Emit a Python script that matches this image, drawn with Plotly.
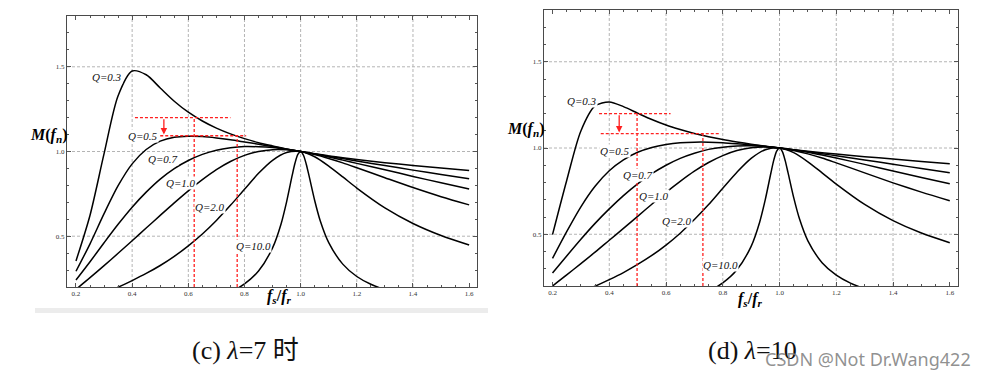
import plotly.graph_objects as go

# ---------------- data ----------------
X = [0.2, 0.25, 0.3, 0.35, 0.4, 0.45, 0.5, 0.55, 0.6, 0.65, 0.7, 0.75, 0.8,
     0.85, 0.9, 0.95, 1.0, 1.05, 1.1, 1.15, 1.2, 1.3, 1.4, 1.5, 1.6]

# lambda = 7
L7_Q03 = [0.354, 0.624, 0.987, 1.329, 1.475, 1.453, 1.375, 1.297, 1.232, 1.180, 1.138, 1.104, 1.076,
          1.052, 1.033, 1.015, 1.0, 0.987, 0.974, 0.963, 0.953, 0.934, 0.918, 0.903, 0.888]
L7_Q05 = [0.293, 0.455, 0.633, 0.798, 0.927, 1.012, 1.061, 1.084, 1.090, 1.088, 1.080, 1.069, 1.056,
          1.043, 1.029, 1.014, 1.0, 0.986, 0.972, 0.958, 0.944, 0.917, 0.890, 0.864, 0.839]
L7_Q07 = [0.241, 0.349, 0.461, 0.570, 0.671, 0.760, 0.837, 0.899, 0.947, 0.983, 1.008, 1.022, 1.029,
          1.028, 1.023, 1.013, 1.0, 0.985, 0.968, 0.949, 0.930, 0.892, 0.853, 0.815, 0.779]
L7_Q10 = [0.186, 0.255, 0.326, 0.399, 0.473, 0.548, 0.623, 0.697, 0.768, 0.834, 0.893, 0.941, 0.977,
          1.000, 1.011, 1.010, 1.0, 0.982, 0.959, 0.933, 0.904, 0.845, 0.787, 0.733, 0.685]
L7_Q20 = [0.101, 0.132, 0.164, 0.199, 0.238, 0.280, 0.327, 0.381, 0.443, 0.513, 0.593, 0.682, 0.777,
          0.871, 0.948, 0.994, 1.0, 0.969, 0.914, 0.850, 0.784, 0.667, 0.575, 0.504, 0.448]

# lambda = 10
L10_Q03 = [0.498, 0.812, 1.099, 1.244, 1.267, 1.240, 1.202, 1.165, 1.133, 1.107, 1.084, 1.065, 1.049,
           1.035, 1.022, 1.010, 1.0, 0.990, 0.981, 0.973, 0.965, 0.950, 0.936, 0.922, 0.909]
L10_Q05 = [0.360, 0.515, 0.659, 0.778, 0.868, 0.931, 0.975, 1.003, 1.020, 1.030, 1.034, 1.034, 1.031,
           1.025, 1.018, 1.010, 1.0, 0.990, 0.979, 0.967, 0.955, 0.931, 0.906, 0.881, 0.857]
L10_Q07 = [0.275, 0.374, 0.471, 0.563, 0.647, 0.724, 0.792, 0.851, 0.900, 0.940, 0.970, 0.992, 1.005,
           1.012, 1.013, 1.008, 1.0, 0.989, 0.975, 0.959, 0.942, 0.905, 0.867, 0.829, 0.793]
L10_Q10 = [0.200, 0.264, 0.330, 0.396, 0.465, 0.534, 0.604, 0.674, 0.743, 0.807, 0.866, 0.916, 0.956,
           0.985, 1.001, 1.006, 1.0, 0.986, 0.966, 0.942, 0.914, 0.856, 0.798, 0.744, 0.694]
L10_Q20 = [0.103, 0.133, 0.165, 0.199, 0.237, 0.278, 0.325, 0.377, 0.437, 0.506, 0.585, 0.672, 0.767,
           0.860, 0.940, 0.990, 1.0, 0.973, 0.920, 0.856, 0.791, 0.673, 0.579, 0.507, 0.451]

# Q = 10 curves (sharper peak, denser sampling)
XQ100 = [0.2, 0.3, 0.4, 0.5, 0.6, 0.65, 0.7, 0.75, 0.8, 0.85, 0.9, 0.93, 0.95, 0.97, 0.98, 0.99,
         1.0, 1.01, 1.02, 1.03, 1.05, 1.07, 1.1, 1.15, 1.2, 1.25, 1.3, 1.4, 1.5, 1.6]
L7_Q100 = [0.021, 0.033, 0.048, 0.067, 0.094, 0.112, 0.136, 0.170, 0.218, 0.294, 0.431, 0.571, 0.703,
           0.860, 0.932, 0.983, 1.0, 0.978, 0.925, 0.856, 0.711, 0.590, 0.462, 0.335, 0.262, 0.216,
           0.185, 0.144, 0.119, 0.102]
L10_Q100 = [0.021, 0.033, 0.048, 0.067, 0.094, 0.112, 0.136, 0.169, 0.218, 0.294, 0.430, 0.570, 0.702,
            0.858, 0.931, 0.982, 1.0, 0.979, 0.927, 0.857, 0.712, 0.591, 0.462, 0.335, 0.263, 0.217,
            0.185, 0.144, 0.119, 0.102]

Q_LABELS = ["Q=0.3", "Q=0.5", "Q=0.7", "Q=1.0", "Q=2.0", "Q=10.0"]
L7_LABEL_X = [0.312, 0.437, 0.51, 0.574, 0.677, 0.831]
L7_LABEL_Y = [1.438, 1.091, 0.954, 0.816, 0.671, 0.442]
L10_LABEL_X = [0.303, 0.421, 0.50, 0.557, 0.638, 0.793]
L10_LABEL_Y = [1.274, 0.984, 0.845, 0.719, 0.578, 0.323]

# red guide lines: horizontal (x0, x1, y), vertical (x, ytop), arrow (x, yfrom, yto)
L7_GUIDE_H = [(0.41, 0.75, 1.20), (0.50, 0.806, 1.093)]
L7_GUIDE_V = [(0.621, 1.20), (0.774, 1.093)]
L7_ARROW = (0.513, 1.20, 1.10)
L10_GUIDE_H = [(0.364, 0.616, 1.199), (0.37, 0.787, 1.083)]
L10_GUIDE_V = [(0.498, 1.199), (0.73, 1.083)]
L10_ARROW = (0.435, 1.199, 1.09)

X_TICKS = [0.2, 0.4, 0.6, 0.8, 1.0, 1.2, 1.4, 1.6]
X_TICK_TEXT = ["0.2", "0.4", "0.6", "0.8", "1.0", "1.2", "1.4", "1.6"]
Y_TICKS = [0.5, 1.0, 1.5]
Y_TICK_TEXT = ["0.5", "1.0", "1.5"]
X_GRID = [0.4, 0.6, 0.8, 1.0, 1.2, 1.4]
Y_GRID = [0.5, 1.0, 1.5]

CAPTIONS = ["(c) <i>λ</i>=7 时", "(d) <i>λ</i>=10"]
WATERMARK = "CSDN @Not Dr.Wang422"

# ---------------- figure ----------------
W, H = 991, 379
def px(x): return x / W
def py(y): return 1 - y / H

fig = go.Figure()

panels = [
    dict(xa="x", ya="y", curves=[L7_Q03, L7_Q05, L7_Q07, L7_Q10, L7_Q20], q100=L7_Q100,
         lx=L7_LABEL_X, ly=L7_LABEL_Y, gh=L7_GUIDE_H, gv=L7_GUIDE_V, arr=L7_ARROW),
    dict(xa="x2", ya="y2", curves=[L10_Q03, L10_Q05, L10_Q07, L10_Q10, L10_Q20], q100=L10_Q100,
         lx=L10_LABEL_X, ly=L10_LABEL_Y, gh=L10_GUIDE_H, gv=L10_GUIDE_V, arr=L10_ARROW),
]

YMIN, YMAX = 0.2, 1.8
line_style = dict(color="black", width=1.5, shape="spline", smoothing=0.8)

for p in panels:
    for ys in p["curves"]:
        fig.add_trace(go.Scatter(x=X, y=ys, mode="lines", line=line_style,
                                 xaxis=p["xa"], yaxis=p["ya"], showlegend=False, hoverinfo="skip"))
    fig.add_trace(go.Scatter(x=XQ100, y=p["q100"], mode="lines", line=line_style,
                             xaxis=p["xa"], yaxis=p["ya"], showlegend=False, hoverinfo="skip"))
    grid = dict(color="#b4b4b4", width=1, dash="3px,2px")
    for gx in X_GRID:
        fig.add_shape(type="line", xref=p["xa"], yref=p["ya"], x0=gx, x1=gx, y0=YMIN, y1=YMAX,
                      line=grid, layer="below")
    for gy in Y_GRID:
        fig.add_shape(type="line", xref=p["xa"] + " domain", yref=p["ya"], x0=0, x1=1, y0=gy, y1=gy,
                      line=grid, layer="below")
    red = dict(color="#ff2020", width=1.3, dash="3px,2px")
    for (x0, x1, y) in p["gh"]:
        fig.add_shape(type="line", xref=p["xa"], yref=p["ya"], x0=x0, x1=x1, y0=y, y1=y, line=red)
    for (x, yt) in p["gv"]:
        fig.add_shape(type="line", xref=p["xa"], yref=p["ya"], x0=x, x1=x, y0=YMIN, y1=yt, line=red)
    ax_, y0_, y1_ = p["arr"]
    fig.add_annotation(x=ax_, y=y1_, ax=ax_, ay=y0_, xref=p["xa"], yref=p["ya"],
                       axref=p["xa"], ayref=p["ya"], text="", showarrow=True,
                       arrowhead=2, arrowsize=1, arrowwidth=1.3, arrowcolor="#ff2020")
    for t, lx, ly in zip(Q_LABELS, p["lx"], p["ly"]):
        fig.add_annotation(x=lx, y=ly, xref=p["xa"], yref=p["ya"], text="<i>%s</i>" % t,
                           showarrow=False, bgcolor="white", borderpad=0,
                           xanchor="center", yanchor="middle",
                           font=dict(family="Liberation Serif", size=11, color="#111"))

axis_common = dict(showline=True, linecolor="#4a4a4a", linewidth=1, mirror="allticks",
                   ticks="inside", ticklen=4, tickcolor="#555", tickwidth=1,
                   showgrid=False, zeroline=False,
                   tickfont=dict(family="Liberation Serif", size=7, color="#333"))

fig.update_layout(
    width=W, height=H, margin=dict(l=0, r=0, t=0, b=0, autoexpand=False),
    paper_bgcolor="white", plot_bgcolor="white",
    xaxis=dict(domain=[px(67), px(477)], range=[0.168, 1.628], anchor="y",
               tickvals=X_TICKS, ticktext=X_TICK_TEXT,
               minor=dict(dtick=0.05, tick0=0.2, ticks="inside", ticklen=2, tickcolor="#555"),
               **axis_common),
    yaxis=dict(domain=[py(287), py(16)], range=[YMIN, YMAX], anchor="x",
               tickvals=Y_TICKS, ticktext=Y_TICK_TEXT,
               minor=dict(dtick=0.1, tick0=0.2, ticks="inside", ticklen=2, tickcolor="#555"),
               **axis_common),
    xaxis2=dict(domain=[px(544), px(958)], range=[0.17, 1.629], anchor="y2",
                tickvals=X_TICKS, ticktext=X_TICK_TEXT,
                minor=dict(dtick=0.05, tick0=0.2, ticks="inside", ticklen=2, tickcolor="#555"),
                **axis_common),
    yaxis2=dict(domain=[py(286), py(10)], range=[YMIN, YMAX], anchor="x2",
                tickvals=Y_TICKS, ticktext=Y_TICK_TEXT,
                minor=dict(dtick=0.1, tick0=0.2, ticks="inside", ticklen=2, tickcolor="#555"),
                **axis_common),
)

fig.add_shape(type="rect", xref="paper", yref="paper", x0=px(35), x1=px(488), y0=py(313), y1=py(308),
              fillcolor="#ececec", line=dict(width=0), layer="below")

def paper_text(x, y, text, font):
    fig.add_annotation(x=px(x), y=py(y), xref="paper", yref="paper", showarrow=False,
                       xanchor="center", yanchor="middle", text=text, font=font)

title_font = dict(family="Liberation Serif", size=16, color="black")
paper_text(48, 135, "<b><i>M</i>(<i>f</i><sub><i>n</i></sub>)</b>", title_font)
paper_text(525, 130, "<b><i>M</i>(<i>f</i><sub><i>n</i></sub>)</b>", title_font)
paper_text(279, 296, "<b><i>f<sub>s</sub></i>/<i>f<sub>r</sub></i></b>", title_font)
paper_text(750, 299, "<b><i>f<sub>s</sub></i>/<i>f<sub>r</sub></i></b>", title_font)

cap_font = dict(family="Liberation Serif, Noto Sans CJK SC", size=26, color="#111")
paper_text(245, 350, CAPTIONS[0], cap_font)
paper_text(752, 350, CAPTIONS[1], cap_font)
paper_text(868, 359, WATERMARK,
           dict(family="Noto Sans, DejaVu Sans", size=18, color="rgba(125,125,125,0.85)"))

fig.write_html("out.html", config={"displayModeBar": False, "staticPlot": True},
               post_script="document.body.style.margin='0';document.body.style.padding='0';")
